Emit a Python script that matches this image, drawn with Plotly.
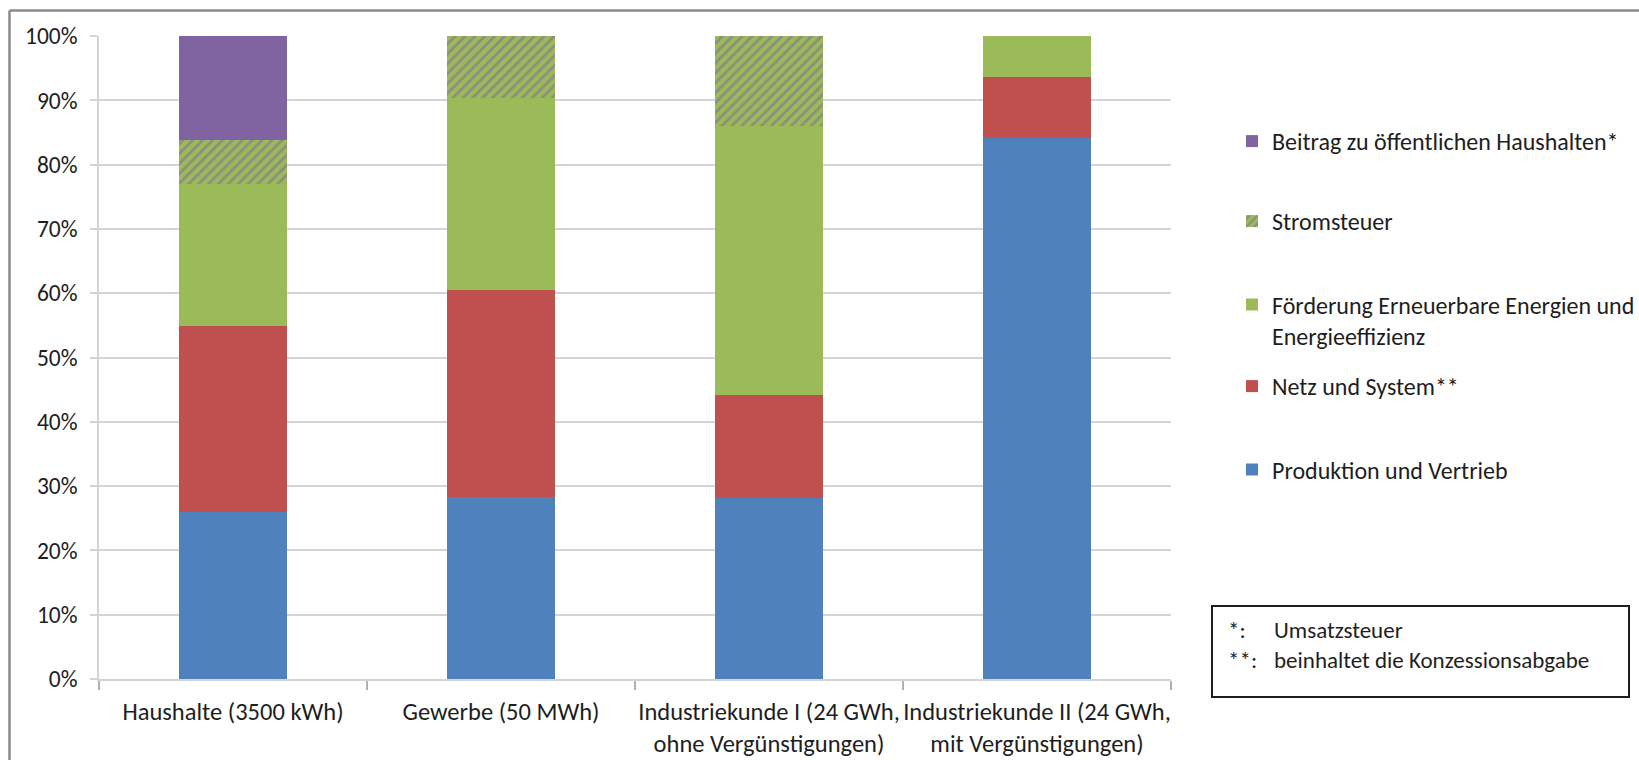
import plotly.graph_objects as go

# Electricity price components by customer group, share of total price (%)
categories = [
    "Haushalte (3500 kWh)",
    "Gewerbe (50 MWh)",
    "Industriekunde I (24 GWh,<br>ohne Vergünstigungen)",
    "Industriekunde II (24 GWh,<br>mit Vergünstigungen)",
]
produktion = [26.0, 28.3, 28.2, 84.2]
netz = [28.9, 32.2, 15.9, 9.5]
foerderung = [22.1, 29.9, 41.9, 6.3]
stromsteuer = [6.9, 9.6, 14.0, 0.0]
beitrag = [16.1, 0.0, 0.0, 0.0]

y_ticks = [0, 10, 20, 30, 40, 50, 60, 70, 80, 90, 100]
y_ticktext = [f"{v}%" for v in y_ticks]

BLUE = "#4f81bd"
RED = "#c0504d"
GREEN = "#9bbb59"
PURPLE = "#8064a2"
FONT = "Carlito, Lato, sans-serif"
TEXT = "#1e1e1e"
GRID = "#d4d4d4"

W, H = 1639, 760
ML, MR, MT, MB = 99, 468, 36, 81
PW, PH = W - ML - MR, H - MT - MB


def px_x(x):
    return (x - ML) / PW


def px_y(y):
    return (H - MB - y) / PH


fig = go.Figure()

series = [
    ("Produktion und Vertrieb", produktion, dict(color=BLUE), "legend5"),
    ("Netz und System**", netz, dict(color=RED), "legend4"),
    ("Förderung Erneuerbare Energien und<br>Energieeffizienz", foerderung, dict(color=GREEN), "legend3"),
    ("Stromsteuer", stromsteuer,
     dict(color=GREEN, pattern=dict(shape="/", fgcolor=PURPLE, bgcolor=GREEN, size=7, solidity=0.42)),
     "legend2"),
    ("Beitrag zu öffentlichen Haushalten*", beitrag, dict(color=PURPLE), "legend"),
]

for name, vals, marker, leg in series:
    fig.add_trace(go.Bar(
        x=categories, y=vals, name=name,
        marker=dict(line=dict(width=0), **marker),
        legend=leg,
    ))

# one legend box per entry, evenly spaced
leg_x = px_x(1232)
leg_centres = {"legend": 141.5, "legend2": 221.5, "legend3": 320.5, "legend4": 386.5, "legend5": 470}
legend_layouts = {}
for key, yc in leg_centres.items():
    legend_layouts[key] = dict(
        x=leg_x, y=px_y(yc), xanchor="left", yanchor="middle",
        bgcolor="rgba(0,0,0,0)", borderwidth=0,
        font=dict(family=FONT, size=24, color=TEXT),
        valign="top",
    )

fig.update_layout(
    width=W, height=H,
    margin=dict(l=ML, r=MR, t=MT, b=MB, autoexpand=False),
    paper_bgcolor="white", plot_bgcolor="white",
    barmode="stack", bargap=0.6,
    font=dict(family=FONT, size=24, color=TEXT),
    showlegend=True,
    **legend_layouts,
)

fig.update_xaxes(
    type="category",
    showline=True, linecolor=GRID, linewidth=1.5,
    ticks="outside", ticklen=9, tickcolor="#b0b0b0", tickwidth=1.5,
    tickson="boundaries",
    showgrid=False,
    tickangle=0,
    ticklabelstandoff=10,
    tickfont=dict(family=FONT, size=24.5, color=TEXT),
)
fig.update_yaxes(
    range=[0, 100],
    tickvals=y_ticks, ticktext=y_ticktext,
    showline=True, linecolor=GRID, linewidth=1.5,
    ticks="outside", ticklen=7, tickcolor=GRID, tickwidth=1.5,
    showgrid=True, gridcolor=GRID, gridwidth=1.5,
    zeroline=False,
    ticklabelstandoff=8,
    tickfont=dict(family=FONT, size=23.5, color=TEXT),
)

# chart-area frame (left and top edges visible)
frame = dict(type="line", xref="paper", yref="paper", line=dict(color="#8a8a8a", width=2.5))
fig.add_shape(**frame, x0=px_x(9.5), x1=px_x(9.5), y0=px_y(10.5), y1=px_y(800))
fig.add_shape(**frame, x0=px_x(9.5), x1=px_x(1700), y0=px_y(10.5), y1=px_y(10.5))

# footnote box
fig.add_shape(type="rect", xref="paper", yref="paper",
              x0=px_x(1212), x1=px_x(1629), y0=px_y(606), y1=px_y(697),
              line=dict(color="#1e1e1e", width=2), fillcolor="white")
notes = [("*:", "Umsatzsteuer", 630), ("**:", "beinhaltet die Konzessionsabgabe", 659.5)]
for mark, text, yc in notes:
    fig.add_annotation(xref="paper", yref="paper", x=px_x(1226), y=px_y(yc),
                       xanchor="left", yanchor="middle", showarrow=False, text=mark,
                       font=dict(family=FONT, size=23, color=TEXT))
    fig.add_annotation(xref="paper", yref="paper", x=px_x(1272), y=px_y(yc),
                       xanchor="left", yanchor="middle", showarrow=False, text=text,
                       font=dict(family=FONT, size=23, color=TEXT))

fig.write_html("out.html")
